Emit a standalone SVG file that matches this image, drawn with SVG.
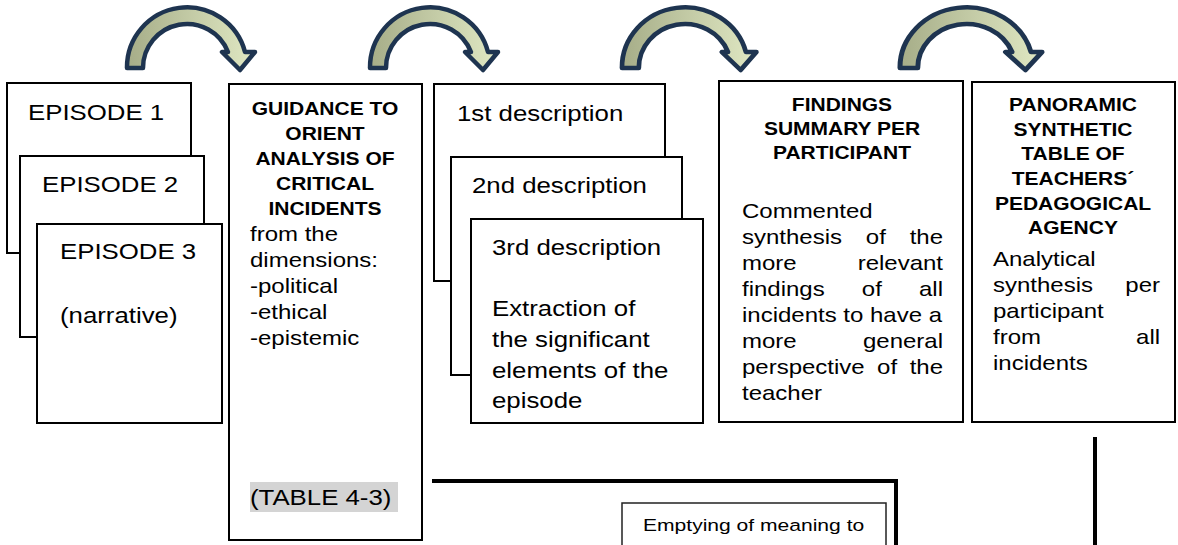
<svg xmlns="http://www.w3.org/2000/svg" width="1178" height="545" viewBox="0 0 1178 545">
<defs>
<style>
.box{fill:#fff;stroke:#000;stroke-width:2}
.t{font-family:"Liberation Sans",Arial,sans-serif;fill:#000}
.r{font-size:21.5px}
.s{font-size:20px}
.b{font-size:17.5px;font-weight:bold;text-anchor:middle}
.e{text-anchor:end}
.arrow{fill:url(#ag);stroke:#1e3450;stroke-width:4.5;stroke-linejoin:round}
.ln{fill:none;stroke:#000;stroke-width:4}
</style>
<linearGradient id="ag" x1="0" y1="0" x2="1" y2="0">
<stop offset="0" stop-color="#a6ad88"/>
<stop offset="1" stop-color="#e0e8c3"/>
</linearGradient>
<path id="arr" d="M 0,68 A 60,60 0 0 1 118,52 L 128,52 L 113,70 L 95,52 L 101,52 A 44,44 0 0 0 16,68 Z"/>
</defs>

<g id="arrows">
<use href="#arr" class="arrow" transform="translate(127 0)"/>
<use href="#arr" class="arrow" transform="translate(370 0)"/>
<use href="#arr" class="arrow" transform="translate(622 0) scale(1.05 1)"/>
<use href="#arr" class="arrow" transform="translate(900 0) scale(1.11 1)"/>
</g>

<g id="connectors">
<polyline class="ln" points="432,481 896,481 896,547"/>
<line class="ln" x1="1095" y1="437" x2="1095" y2="547"/>
</g>

<g id="episode1">
<rect class="box" x="7" y="83" width="184" height="170"/>
<text class="t r" transform="translate(28 0) scale(1.2 1)"><tspan x="0" y="120">EPISODE 1</tspan></text>
</g>
<g id="episode2">
<rect class="box" x="20" y="156" width="184" height="181"/>
<text class="t r" transform="translate(42 0) scale(1.2 1)"><tspan x="0" y="192">EPISODE 2</tspan></text>
</g>
<g id="episode3">
<rect class="box" x="37" y="224" width="185" height="199"/>
<text class="t r" transform="translate(60 0) scale(1.2 1)"><tspan x="0" y="259">EPISODE 3</tspan><tspan x="0" y="323">(narrative)</tspan></text>
</g>

<g id="guidance">
<rect class="box" x="229" y="84" width="193" height="456"/>
<text class="t b" transform="translate(325 0) scale(1.2 1)"><tspan x="0" y="115">GUIDANCE TO</tspan><tspan x="0" y="140">ORIENT</tspan><tspan x="0" y="165">ANALYSIS OF</tspan><tspan x="0" y="190">CRITICAL</tspan><tspan x="0" y="215">INCIDENTS</tspan></text>
<text class="t s" transform="translate(250 0) scale(1.2 1)"><tspan x="0" y="241">from the</tspan><tspan x="0" y="267">dimensions:</tspan><tspan x="0" y="293">-political</tspan><tspan x="0" y="319">-ethical</tspan><tspan x="0" y="345">-epistemic</tspan></text>
<rect x="250" y="482" width="148" height="30" fill="#d4d4d4"/>
<text class="t r" transform="translate(250 0) scale(1.2 1)"><tspan x="0" y="505">(TABLE 4-3)</tspan></text>
</g>

<g id="description1">
<rect class="box" x="434" y="84" width="231" height="197"/>
<text class="t r" transform="translate(457 0) scale(1.2 1)"><tspan x="0" y="121">1st description</tspan></text>
</g>
<g id="description2">
<rect class="box" x="451" y="157" width="231" height="218"/>
<text class="t r" transform="translate(472 0) scale(1.2 1)"><tspan x="0" y="193">2nd description</tspan></text>
</g>
<g id="description3">
<rect class="box" x="471" y="219" width="232" height="204"/>
<text class="t r" transform="translate(492 0) scale(1.2 1)"><tspan x="0" y="255">3rd description</tspan><tspan x="0" y="316">Extraction of</tspan><tspan x="0" y="347">the significant</tspan><tspan x="0" y="378">elements of the</tspan><tspan x="0" y="408">episode</tspan></text>
</g>

<g id="findings">
<rect class="box" x="719" y="81" width="244" height="341"/>
<text class="t b" transform="translate(842 0) scale(1.2 1)"><tspan x="0" y="111">FINDINGS</tspan><tspan x="0" y="135">SUMMARY PER</tspan><tspan x="0" y="159">PARTICIPANT</tspan></text>
<g transform="translate(742 0) scale(1.2 1)">
<text class="t s"><tspan x="0" y="218">Commented</tspan><tspan x="0" y="244">synthesis</tspan><tspan x="103.2" y="244">of</tspan><tspan x="0" y="270">more</tspan><tspan x="0" y="296">findings</tspan><tspan x="99.9" y="296">of</tspan><tspan x="0" y="322">incidents to have a</tspan><tspan x="0" y="348">more</tspan><tspan x="0" y="374">perspective</tspan><tspan x="112.6" y="374">of</tspan><tspan x="0" y="400">teacher</tspan></text>
<text class="t s e"><tspan x="167.5" y="244">the</tspan><tspan x="167.5" y="270">relevant</tspan><tspan x="167.5" y="296">all</tspan><tspan x="167.5" y="348">general</tspan><tspan x="167.5" y="374">the</tspan></text>
</g>
</g>

<g id="panoramic">
<rect class="box" x="972" y="82" width="203" height="340"/>
<text class="t b" transform="translate(1073 0) scale(1.2 1)"><tspan x="0" y="111">PANORAMIC</tspan><tspan x="0" y="136">SYNTHETIC</tspan><tspan x="0" y="160">TABLE OF</tspan><tspan x="0" y="185">TEACHERS´</tspan><tspan x="0" y="210">PEDAGOGICAL</tspan><tspan x="0" y="234">AGENCY</tspan></text>
<g transform="translate(993 0) scale(1.2 1)">
<text class="t s"><tspan x="0" y="266">Analytical</tspan><tspan x="0" y="292">synthesis</tspan><tspan x="0" y="318">participant</tspan><tspan x="0" y="344">from</tspan><tspan x="0" y="370">incidents</tspan></text>
<text class="t s e"><tspan x="139.2" y="292">per</tspan><tspan x="139.2" y="344">all</tspan></text>
</g>
</g>

<g id="emptying">
<rect x="622" y="503" width="264" height="60" fill="#fff" stroke="#222" stroke-width="1.5"/>
<text class="t" font-size="17" transform="translate(643 0) scale(1.24 1)"><tspan x="0" y="531">Emptying of meaning to</tspan></text>
</g>
</svg>
